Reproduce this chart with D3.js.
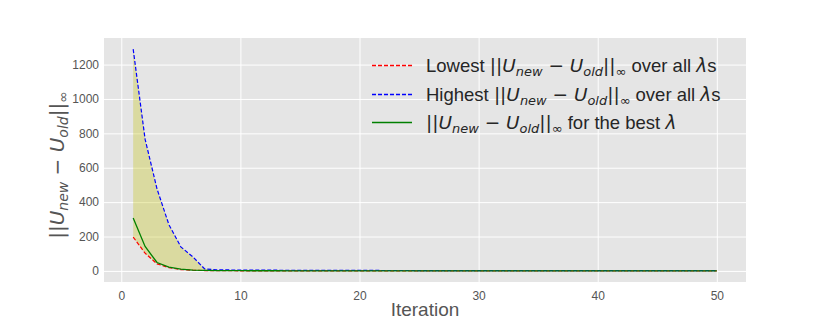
<!DOCTYPE html>
<html>
<head>
<meta charset="utf-8">
<script src="https://cdn.jsdelivr.net/npm/d3@7"></script>
<style>
  body { margin: 0; background: #fff; }
  text { font-family: "Liberation Sans", Arial, sans-serif; }
</style>
</head>
<body>
<div class="chart"></div>
<script>
// data
var iterations = [1,2,3,4,5,6,7,8,9,10,11,12,13,14,15,16,17,18,19,20,
  21,22,23,24,25,26,27,28,29,30,31,32,33,34,35,36,37,38,39,40,
  41,42,43,44,45,46,47,48,49,50];
var lowest = [197,103,41,19,8,4,2,1.2,0.9,0.7,0.6,0.5,0.45,0.4,0.35,0.3,0.3,0.25,0.25,0.2,
  0.2,0.2,0.2,0.15,0.15,0.15,0.15,0.1,0.1,0.1,0.1,0.1,0.1,0.1,0.1,0.1,0.1,0.1,0.1,0.1,
  0.1,0.1,0.1,0.1,0.1,0.1,0.1,0.1,0.1,0.1];
var highest = [1290,766,477,269,140,82,12,6,5.5,5,4.6,4.3,4,3.8,3.6,3.4,3.2,3,2.9,2.8,
  2.6,2.5,2.4,2.3,2.2,2.1,2,2,1.9,1.9,1.8,1.8,1.7,1.7,1.7,1.6,1.6,1.6,1.5,1.5,
  1.5,1.5,1.4,1.4,1.4,1.4,1.4,1.3,1.3,1.3];
var best = [308,142,49,22,10,5,3,2,1.5,1.2,1,0.9,0.8,0.7,0.6,0.6,0.5,0.5,0.5,0.4,
  0.4,0.4,0.4,0.3,0.3,0.3,0.3,0.3,0.3,0.3,0.3,0.2,0.2,0.2,0.2,0.2,0.2,0.2,0.2,0.2,
  0.2,0.2,0.2,0.2,0.2,0.2,0.2,0.2,0.2,0.2];
var xTicks = [0, 10, 20, 30, 40, 50];
var yTicks = [0, 200, 400, 600, 800, 1000, 1200];

var svgWidth = 830;
var svgHeight = 323;
var margin = { top: 38, right: 84, bottom: 41, left: 104 };
var width = svgWidth - margin.left - margin.right;
var height = svgHeight - margin.top - margin.bottom;

var svg = d3.select(".chart")
  .append("svg")
  .attr("width", svgWidth)
  .attr("height", svgHeight);

var chart = svg.append("g")
  .attr("transform", "translate(" + margin.left + "," + margin.top + ")");

// matplotlib-like 5% margins
var xLinearScale = d3.scaleLinear().domain([-1.45, 52.45]).range([0, width]);
var yMax = d3.max(highest);
var yLinearScale = d3.scaleLinear().domain([-0.05 * yMax, yMax * 1.05]).range([height, 0]);

chart.append("rect")
  .attr("width", width)
  .attr("height", height)
  .attr("fill", "#e5e5e5");

// grid
chart.append("g")
  .call(d3.axisBottom(xLinearScale).tickValues(xTicks).tickSize(height).tickFormat(""))
  .call(function(g) { g.select(".domain").remove(); })
  .selectAll("line").attr("stroke", "#fff").attr("stroke-width", 1);
chart.append("g")
  .call(d3.axisLeft(yLinearScale).tickValues(yTicks).tickSize(-width).tickFormat(""))
  .call(function(g) { g.select(".domain").remove(); })
  .selectAll("line").attr("stroke", "#fff").attr("stroke-width", 1);

// tick labels
var bottomAxis = chart.append("g")
  .attr("transform", "translate(0," + height + ")")
  .call(d3.axisBottom(xLinearScale).tickValues(xTicks).tickSize(0).tickPadding(9));
bottomAxis.select(".domain").remove();
bottomAxis.selectAll("text").attr("fill", "#555").attr("font-size", "12px")
  .style("font-family", "Liberation Sans, Arial, sans-serif");

var leftAxis = chart.append("g")
  .call(d3.axisLeft(yLinearScale).tickValues(yTicks).tickSize(0).tickPadding(5)
    .tickFormat(d3.format("d")));
leftAxis.select(".domain").remove();
leftAxis.selectAll("text").attr("fill", "#555").attr("font-size", "12px")
  .style("font-family", "Liberation Sans, Arial, sans-serif");

// series
var rows = iterations.map(function(it, i) {
  return { it: it, lo: lowest[i], hi: highest[i], best: best[i] };
});

chart.append("path")
  .datum(rows)
  .attr("fill", "#bfbf00")
  .attr("fill-opacity", 0.3)
  .attr("d", d3.area()
    .x(function(d) { return xLinearScale(d.it); })
    .y0(function(d) { return yLinearScale(d.lo); })
    .y1(function(d) { return yLinearScale(d.hi); }));

function lineFor(key) {
  return d3.line()
    .x(function(d) { return xLinearScale(d.it); })
    .y(function(d) { return yLinearScale(d[key]); });
}

chart.append("path").datum(rows)
  .attr("fill", "none").attr("stroke", "red").attr("stroke-width", 1.2)
  .attr("stroke-dasharray", "4,2").attr("d", lineFor("lo"));
chart.append("path").datum(rows)
  .attr("fill", "none").attr("stroke", "blue").attr("stroke-width", 1.2)
  .attr("stroke-dasharray", "4,2").attr("d", lineFor("hi"));
chart.append("path").datum(rows)
  .attr("fill", "none").attr("stroke", "green").attr("stroke-width", 1.3)
  .attr("d", lineFor("best"));

// math-ish text helper (math parts in DejaVu Sans like matplotlib mathtext)
var MATH_FONT = "DejaVu Sans";
function mathText(sel, parts, size) {
  parts.forEach(function(p) {
    var t = sel.append("tspan").text(p.t);
    if (p.m) t.style("font-family", MATH_FONT);
    if (p.it) t.attr("font-style", "italic");
    if (p.sub) {
      t.attr("font-size", (size * 0.7) + "px").attr("dy", size * 0.22);
    }
    if (p.back) t.attr("dy", -size * 0.22);
  });
}

var normParts = [
  { t: "||", m: true }, { t: "U", it: true, m: true }, { t: "new", it: true, sub: true, m: true },
  { t: " \u2212 ", back: true, m: true }, { t: "U", it: true, m: true },
  { t: "old", it: true, sub: true, m: true },
  { t: "||", back: true, m: true }, { t: "\u221e", sub: true, m: true }
];

// legend
var legendItems = [
  { color: "red", dash: "4,2", pre: "Lowest ", post: " over all ", lam: true },
  { color: "blue", dash: "4,2", pre: "Highest ", post: " over all ", lam: true },
  { color: "green", dash: null, pre: "", post: " for the best ", lam: false }
];

var legend = svg.append("g");
legendItems.forEach(function(item, i) {
  var y = Math.round(65 + i * 28.5) + 0.5;
  legend.append("line")
    .attr("x1", 372).attr("x2", 412).attr("y1", y).attr("y2", y)
    .attr("stroke", item.color).attr("stroke-width", 1.3)
    .attr("stroke-dasharray", item.dash);
  var txt = legend.append("text")
    .attr("x", 426).attr("y", y + 6.5)
    .attr("font-size", "18.5px").attr("fill", "#262626");
  var parts = [];
  if (item.pre) parts.push({ t: item.pre });
  parts = parts.concat(normParts);
  parts.push({ t: item.post, back: true });
  parts.push({ t: "\u03bb", it: true, m: true });
  if (item.lam) parts.push({ t: "s" });
  mathText(txt, parts, 18.5);
});

// axis labels
svg.append("text")
  .attr("x", margin.left + width / 2)
  .attr("y", 316)
  .attr("text-anchor", "middle")
  .attr("font-size", "19px")
  .attr("fill", "#555")
  .text("Iteration");

var yLab = svg.append("text")
  .attr("transform", "translate(64," + (margin.top + height / 2 + 5) + ") rotate(-90)")
  .attr("text-anchor", "middle")
  .attr("font-size", "20px")
  .attr("fill", "#555");
mathText(yLab, normParts, 20);
</script>
</body>
</html>
